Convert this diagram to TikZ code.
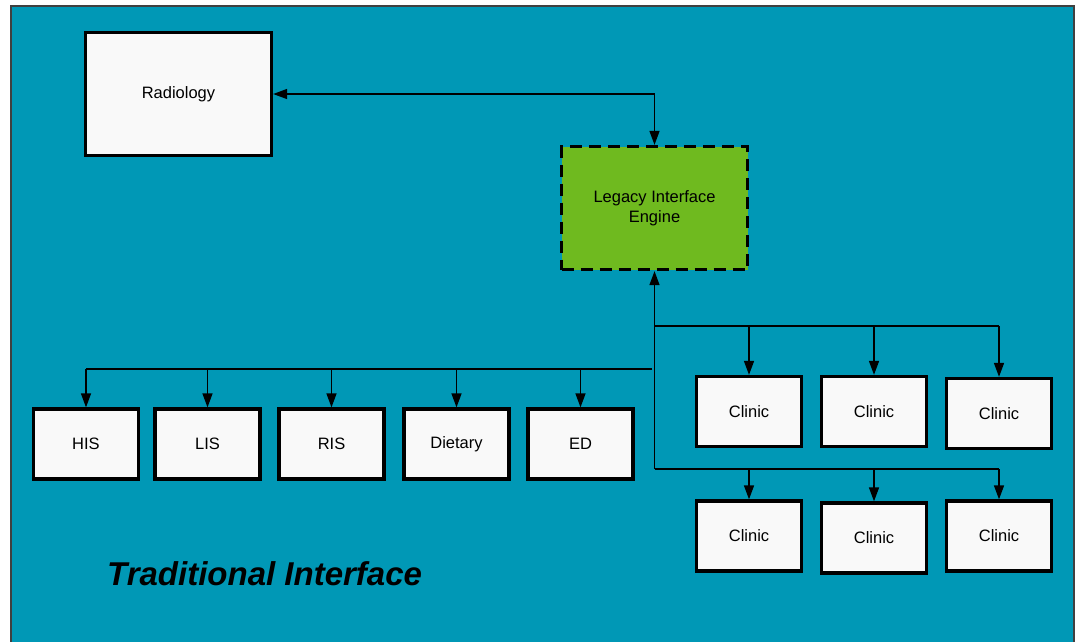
\documentclass[tikz,border=0pt]{standalone}
\usepackage{fontspec}
\setmainfont{Liberation Sans}
\usetikzlibrary{arrows.meta}

\definecolor{panelteal}{HTML}{0098B6}
\definecolor{enginegreen}{HTML}{6FBA1F}
\definecolor{boxwhite}{HTML}{F9F9F9}
\definecolor{rimgray}{HTML}{404040}

\begin{document}
\begin{tikzpicture}[
    x=1pt, y=-1pt,
    sysbox/.style={draw=black, line width=3.3pt, fill=boxwhite, inner sep=0pt,
                   minimum width=105pt, minimum height=70pt,
                   font=\fontsize{16.5}{20}\selectfont},
    bigbox/.style={sysbox, minimum width=186pt, minimum height=123pt},
    enginebox/.style={bigbox, fill=enginegreen, dash pattern=on 12pt off 7pt,
                      align=center},
    conn/.style={line width=1.4pt, black},
    tip/.style={-{Triangle[length=14pt, width=10pt]}},
]
\useasboundingbox (0,0) rectangle (1076,641);

% Panel
\fill[panelteal, draw=rimgray, line width=1.5pt] (11,6) rectangle (1074,650);

% Radiology and engine
\node[bigbox] (radio) at (178.5,94) {Radiology};
\node[enginebox] (lie) at (654.5,208) {Legacy Interface\\Engine};

\draw[conn, {Triangle[length=14pt, width=10pt]}-{Triangle[length=14pt, width=10pt]}]
    (radio.east) -| (lie.north);

% Hospital systems
\node[sysbox] (his) at (86,444) {HIS};
\node[sysbox] (lis) at (207.5,444) {LIS};
\node[sysbox] (ris) at (331.5,444) {RIS};
\node[sysbox] (diet) at (456.5,444) {Dietary};
\node[sysbox] (ed) at (580.5,444) {ED};

% Clinics
\node[sysbox] (c1) at (749,411.5) {Clinic};
\node[sysbox] (c2) at (874,411.5) {Clinic};
\node[sysbox] (c3) at (999,413.5) {Clinic};
\node[sysbox] (c4) at (749,536) {Clinic};
\node[sysbox] (c5) at (874,538) {Clinic};
\node[sysbox] (c6) at (999,536) {Clinic};

% Bus lines
\coordinate (hbus) at (652,369);
\coordinate (cbusa) at (654.5,326);
\coordinate (cbusb) at (654.5,469);

\draw[conn, tip] (cbusb) -- (lie.south);
\draw[conn] (hbus) -- (his.north |- hbus);
\draw[conn] (cbusa) -- (c3.north |- cbusa);
\draw[conn] (cbusb) -- (c6.north |- cbusb);

\foreach \n in {his,lis,ris,diet,ed}
    \draw[conn, tip] (\n.north |- hbus) -- (\n.north);
\foreach \n in {c1,c2,c3}
    \draw[conn, tip] (\n.north |- cbusa) -- (\n.north);
\foreach \n in {c4,c5,c6}
    \draw[conn, tip] (\n.north |- cbusb) -- (\n.north);

% Title
\node[anchor=base west, inner sep=0pt,
      font=\fontsize{33}{40}\selectfont\bfseries\itshape] (title)
    at (107,585) {Traditional Interface};

\end{tikzpicture}
\end{document}
